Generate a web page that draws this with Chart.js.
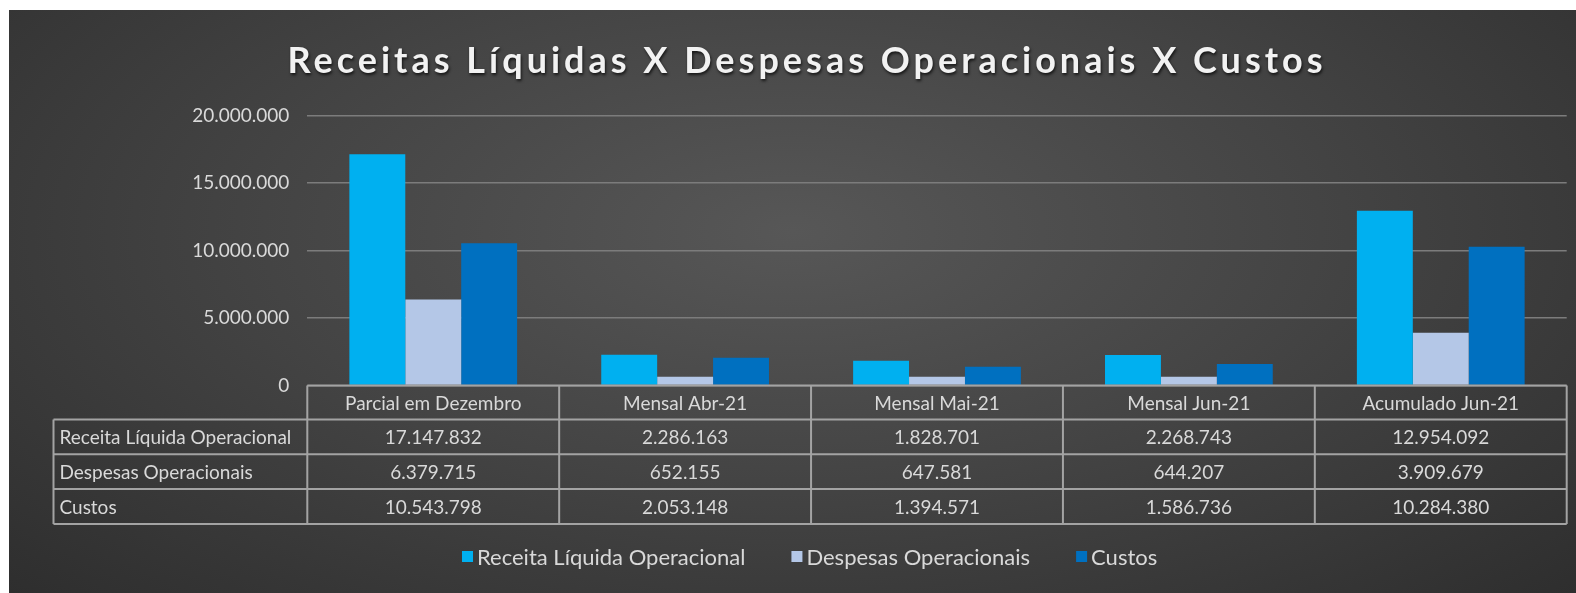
<!DOCTYPE html>
<html>
<head>
<meta charset="utf-8">
<script src="https://cdn.jsdelivr.net/npm/chart.js@4.4.1/dist/chart.umd.min.js"></script>
<style>
    body { margin: 0; background: #ffffff; }
    #box {
        position: absolute; left: 9px; top: 10px; width: 1567px; height: 583px;
        background: radial-gradient(ellipse 75% 95% at 50% 38%, #575757 0%, #444444 45%, #2b2b2b 100%);
    }
</style>
</head>
<body>
<div id="box"><canvas id="chart"></canvas></div>
<script>
const categories = ['Parcial em Dezembro', 'Mensal Abr-21', 'Mensal Mai-21', 'Mensal Jun-21', 'Acumulado Jun-21'];
const receita = [17147832, 2286163, 1828701, 2268743, 12954092];
const despesas = [6379715, 652155, 647581, 644207, 3909679];
const custos = [10543798, 2053148, 1394571, 1586736, 10284380];
const seriesNames = ['Receita Líquida Operacional', 'Despesas Operacionais', 'Custos'];
const chartTitle = 'Receitas Líquidas X Despesas Operacionais X Custos';

const colors = ['#00B0F0', '#B4C7E7', '#0070C0'];
const textColor = '#d9d9d9';
const lineColor = '#a3a3a3';
const fontFamily = 'Lato, "Open Sans", sans-serif';

function fmt(v) {
    return String(v).replace(/\B(?=(\d{3})+(?!\d))/g, '.');
}

// title, data table under the axis, and legend
const extras = {
    id: 'extras',
    afterDraw(chart) {
        const ctx = chart.ctx;
        const area = chart.chartArea;
        const xs = chart.scales.x;
        const n = categories.length;
        const cw = xs.width / n;

        // title
        ctx.save();
        ctx.font = 'bold 36px ' + fontFamily;
        if ('letterSpacing' in ctx) ctx.letterSpacing = '4px';
        ctx.fillStyle = '#f2f2f2';
        ctx.textAlign = 'center';
        ctx.textBaseline = 'middle';
        ctx.shadowColor = 'rgba(0,0,0,0.7)';
        ctx.shadowOffsetX = 1;
        ctx.shadowOffsetY = 2;
        ctx.shadowBlur = 3;
        ctx.fillText(chartTitle, 798, 51);
        ctx.restore();

        // table
        const tableLeft = 44.5;
        const top = area.bottom;
        const headH = 34;
        const rowH = 34.8;
        const bottom = top + headH + rowH * 3;
        const rows = [receita, despesas, custos];

        ctx.save();
        ctx.strokeStyle = lineColor;
        ctx.lineWidth = 2;
        ctx.beginPath();
        ctx.moveTo(area.left, top);
        ctx.lineTo(area.right, top);
        for (let k = 0; k <= 3; k++) {
            const y = top + headH + k * rowH;
            ctx.moveTo(tableLeft, y);
            ctx.lineTo(area.right, y);
        }
        ctx.moveTo(tableLeft, top + headH);
        ctx.lineTo(tableLeft, bottom);
        for (let i = 0; i <= n; i++) {
            const x = xs.left + i * cw;
            ctx.moveTo(x, top);
            ctx.lineTo(x, bottom);
        }
        ctx.stroke();

        ctx.fillStyle = textColor;
        ctx.font = '19px ' + fontFamily;
        ctx.textBaseline = 'middle';
        ctx.textAlign = 'center';
        categories.forEach((c, i) => {
            ctx.fillText(c, xs.getPixelForValue(i), top + headH / 2 + 1);
        });
        rows.forEach((vals, r) => {
            const y = top + headH + rowH * r + rowH / 2 + 1;
            ctx.textAlign = 'left';
            ctx.fillText(seriesNames[r], tableLeft + 6, y);
            ctx.textAlign = 'center';
            vals.forEach((v, i) => ctx.fillText(fmt(v), xs.getPixelForValue(i), y));
        });

        // legend
        ctx.font = '22px ' + fontFamily;
        ctx.textAlign = 'left';
        let x = 453;
        const ly = 547;
        seriesNames.forEach((name, i) => {
            ctx.fillStyle = colors[i];
            ctx.fillRect(x, ly - 6, 11, 11);
            ctx.fillStyle = textColor;
            ctx.fillText(name, x + 15, ly + 1);
            x += 15 + ctx.measureText(name).width + 46;
        });
        ctx.restore();
    }
};

const chart = new Chart(document.getElementById('chart'), {
    type: 'bar',
    data: {
        labels: categories,
        datasets: [
            { label: seriesNames[0], data: receita, backgroundColor: colors[0] },
            { label: seriesNames[1], data: despesas, backgroundColor: colors[1] },
            { label: seriesNames[2], data: custos, backgroundColor: colors[2] }
        ]
    },
    options: {
        responsive: true,
        maintainAspectRatio: false,
        animation: false,
        layout: {
            padding: { top: 105.8, right: 9.3, bottom: 207.5, left: 0 }
        },
        datasets: {
            bar: { categoryPercentage: 0.666, barPercentage: 1 }
        },
        plugins: {
            legend: { display: false },
            title: { display: false },
            tooltip: { enabled: false }
        },
        scales: {
            x: { display: false },
            y: {
                min: 0,
                max: 20000000,
                afterFit(scale) { scale.width = 298.3; },
                border: { display: false },
                grid: { color: '#7c7c7c', lineWidth: 1.6, drawTicks: false },
                ticks: {
                    stepSize: 5000000,
                    padding: 18,
                    color: textColor,
                    font: { family: fontFamily, size: 19 },
                    callback: (v) => fmt(v)
                }
            }
        }
    },
    plugins: [extras]
});
</script>
</body>
</html>
